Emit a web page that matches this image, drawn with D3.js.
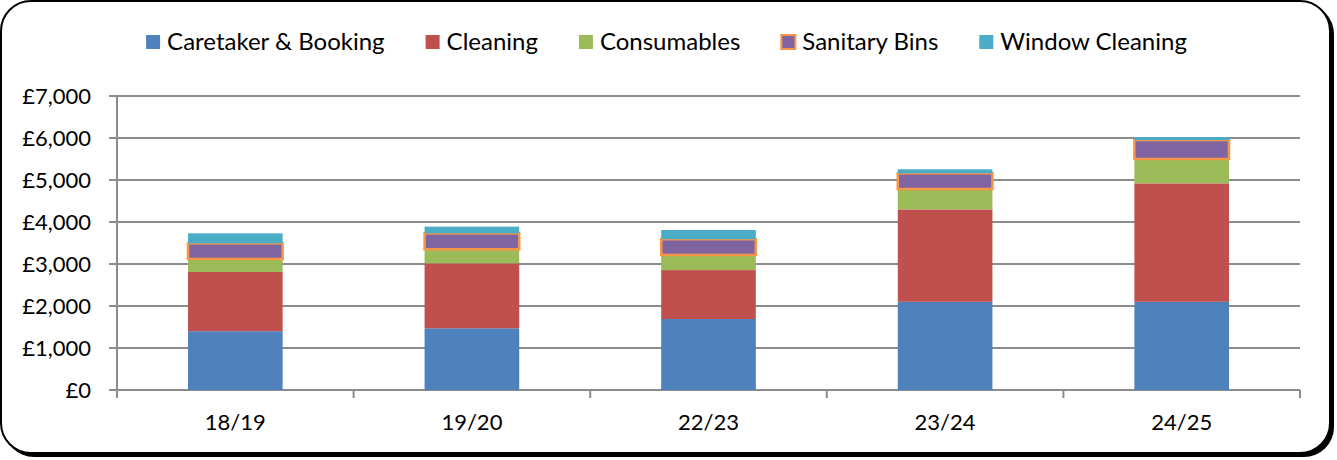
<!DOCTYPE html>
<html lang="en">
<head>
    <meta charset="UTF-8">
    <title>Cost breakdown</title>
    <script src="https://cdn.jsdelivr.net/npm/d3@7"></script>
    <style>
        html, body { margin: 0; padding: 0; background: #fff; }
        svg text { font-family: Lato, "Open Sans", sans-serif; fill: #000; }
    </style>
</head>
<body>
<svg id="chart" width="1337" height="460"></svg>
<script>
    // data
    const years = ["18/19", "19/20", "22/23", "23/24", "24/25"];
    const seriesNames = ["Caretaker & Booking", "Cleaning", "Consumables", "Sanitary Bins", "Window Cleaning"];
    const caretaker = [1400, 1470, 1690, 2100, 2100];
    const cleaning = [1410, 1545, 1165, 2200, 2820];
    const consumables = [310, 335, 360, 485, 580];
    const sanitaryBins = [370, 380, 375, 375, 450];
    const windowCleaning = [240, 160, 220, 95, 70];
    const yTicks = [0, 1000, 2000, 3000, 4000, 5000, 6000, 7000];

    const colors = ["#4F81BD", "#C0504D", "#9BBB59", "#8064A2", "#4BACC6"];

    const rows = years.map((y, i) => ({
        year: y,
        "Caretaker & Booking": caretaker[i],
        "Cleaning": cleaning[i],
        "Consumables": consumables[i],
        "Sanitary Bins": sanitaryBins[i],
        "Window Cleaning": windowCleaning[i]
    }));

    const svg = d3.select("#chart");

    // frame with shadow on right / bottom
    svg.append("rect")
        .attr("x", 4).attr("y", 4).attr("width", 1330).attr("height", 453)
        .attr("rx", 30).attr("fill", "#000");
    svg.append("rect")
        .attr("x", 1).attr("y", 1).attr("width", 1329).attr("height", 452)
        .attr("rx", 30).attr("fill", "#fff").attr("stroke", "#000").attr("stroke-width", 2);

    const plotLeft = 117, plotRight = 1300, plotTop = 96, plotBottom = 390;

    const x = d3.scaleBand().domain(years).range([plotLeft, plotRight])
        .paddingInner(0.6).paddingOuter(0.3);
    const y = d3.scaleLinear().domain([0, 7000]).range([plotBottom, plotTop]);

    // gridlines
    svg.append("g")
        .selectAll("line")
        .data(yTicks)
        .join("line")
        .attr("x1", plotLeft - 8).attr("x2", plotRight)
        .attr("y1", d => y(d)).attr("y2", d => y(d))
        .attr("stroke", "#8c8c8c").attr("stroke-width", 2);

    // y axis labels
    const fmt = d => "£" + d3.format(",")(d);
    svg.append("g")
        .selectAll("text")
        .data(yTicks)
        .join("text")
        .attr("x", 91).attr("y", d => y(d))
        .attr("dy", "0.35em")
        .attr("text-anchor", "end")
        .attr("font-size", 22)
        .text(fmt);

    // y axis line
    svg.append("line")
        .attr("x1", plotLeft).attr("x2", plotLeft).attr("y1", plotTop).attr("y2", plotBottom + 8)
        .attr("stroke", "#8c8c8c").attr("stroke-width", 2);

    // x ticks at category boundaries
    const bounds = d3.range(years.length + 1).map(i => plotLeft + i * (plotRight - plotLeft) / years.length);
    svg.append("g")
        .selectAll("line")
        .data(bounds)
        .join("line")
        .attr("x1", d => d).attr("x2", d => d)
        .attr("y1", plotBottom).attr("y2", plotBottom + 8)
        .attr("stroke", "#8c8c8c").attr("stroke-width", 2);

    svg.append("g")
        .selectAll("text")
        .data(years)
        .join("text")
        .attr("x", d => x(d) + x.bandwidth() / 2)
        .attr("y", 430)
        .attr("text-anchor", "middle")
        .attr("font-size", 22)
        .text(d => d);

    // stacked bars
    const stack = d3.stack().keys(seriesNames)(rows);
    svg.append("g")
        .selectAll("g")
        .data(stack)
        .join("g")
        .attr("fill", (d, i) => colors[i])
        .each(function (s, si) {
            const isBins = seriesNames[si] === "Sanitary Bins";
            d3.select(this).selectAll("rect")
                .data(s)
                .join("rect")
                .attr("x", d => x(d.data.year))
                .attr("width", x.bandwidth())
                .attr("y", d => y(d[1]))
                .attr("height", d => y(d[0]) - y(d[1]))
                .attr("stroke", isBins ? "#F79646" : "none")
                .attr("stroke-width", isBins ? 2.5 : 0);
        });

    // legend
    const legend = svg.append("g").attr("class", "legend");
    let lx = 0;
    seriesNames.forEach((name, i) => {
        const g = legend.append("g").attr("transform", `translate(${lx},0)`);
        g.append("rect")
            .attr("x", 0).attr("y", -7).attr("width", 14).attr("height", 14)
            .attr("fill", colors[i])
            .attr("stroke", name === "Sanitary Bins" ? "#F79646" : "none")
            .attr("stroke-width", name === "Sanitary Bins" ? 2 : 0);
        const t = g.append("text")
            .attr("x", 21).attr("y", 0).attr("dy", "0.35em")
            .attr("font-size", 24)
            .text(name);
        lx += 21 + t.node().getComputedTextLength() + 41;
    });
    const legendWidth = lx - 41;
    legend.attr("transform", `translate(${(1337 - legendWidth) / 2 - 2},42)`);
</script>
</body>
</html>
